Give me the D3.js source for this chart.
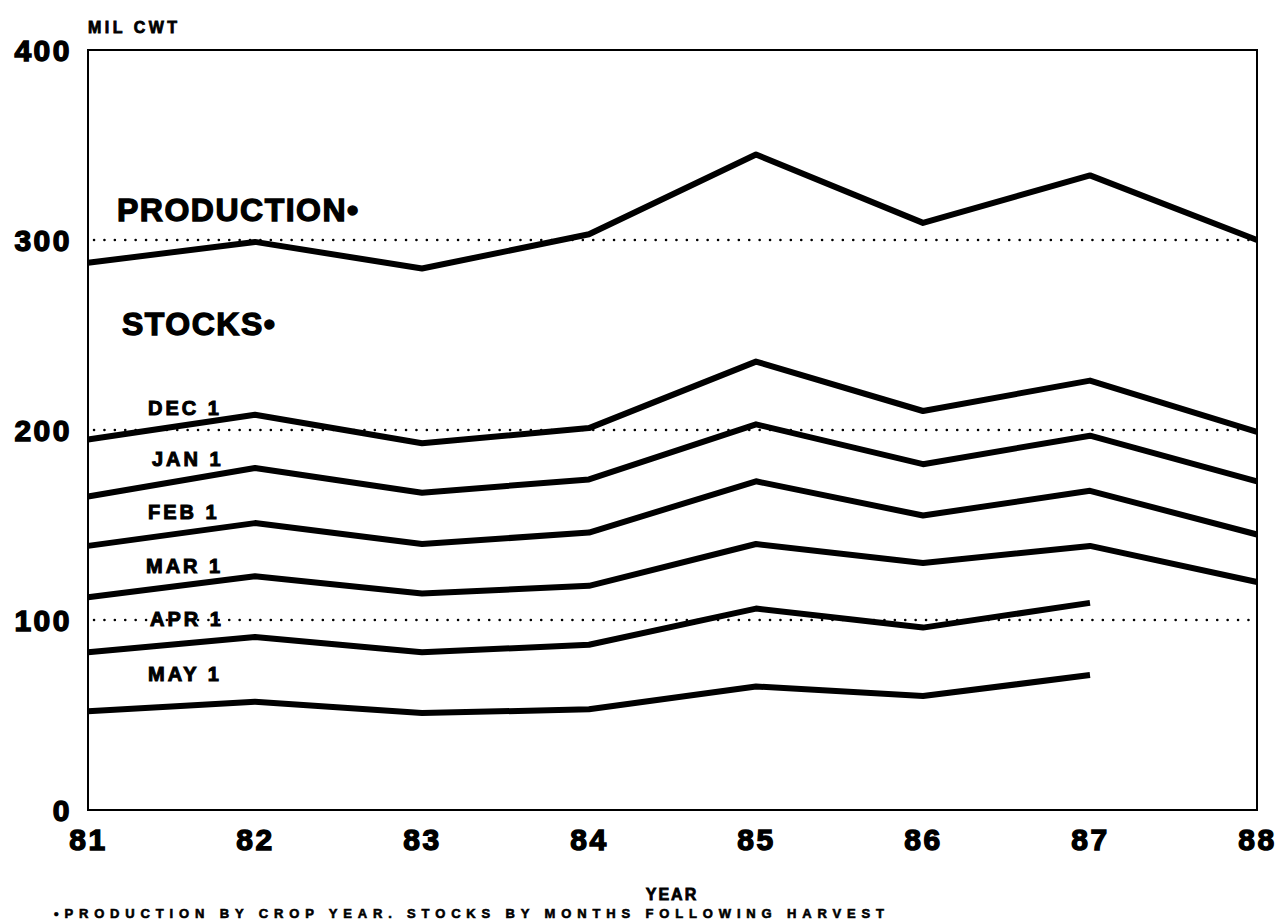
<!DOCTYPE html>
<html>
<head>
<meta charset="utf-8">
<script src="https://cdn.jsdelivr.net/npm/d3@7"></script>
<style>
  body { margin: 0; background: #fff; }
  text { font-family: "Liberation Sans", Arial, sans-serif; font-weight: bold; fill: #000; }
</style>
</head>
<body>
<div id="grafico"></div>
<script>
// datos (millones de cwt)
const anios = ["81", "82", "83", "84", "85", "86", "87", "88"];
const produccion = [288, 299, 285, 303, 345, 309, 334, 300];
const dic1 = [195, 208, 193, 201, 236, 210, 226, 199];
const ene1 = [165, 180, 167, 174, 203, 182, 197, 173];
const feb1 = [139, 151, 140, 146, 173, 155, 168, 145];
const mar1 = [112, 123, 114, 118, 140, 130, 139, 120];
const abr1 = [83, 91, 83, 87, 106, 96, 109];
const may1 = [52, 57, 51, 53, 65, 60, 71];
const ticksY = [0, 100, 200, 300, 400];
const rejilla = [100, 200, 300];

const series = [produccion, dic1, ene1, feb1, mar1, abr1, may1];

// etiquetas de las series: texto, anio de referencia, valor
const etiquetas = [
  { texto: "PRODUCTION•", x: "81", v: 310, size: 32, dx: 29 },
  { texto: "STOCKS•", x: "81", v: 250, size: 32, dx: 34 },
  { texto: "DEC 1", x: "81", v: 208, size: 20, dx: 60 },
  { texto: "JAN 1", x: "81", v: 181, size: 20, dx: 64 },
  { texto: "FEB 1", x: "81", v: 153, size: 20, dx: 60 },
  { texto: "MAR 1", x: "81", v: 125, size: 20, dx: 58 },
  { texto: "APR 1", x: "81", v: 97, size: 20, dx: 62 },
  { texto: "MAY 1", x: "81", v: 68, size: 20, dx: 60 }
];

const width = 1281, height = 921;
const margin = { top: 50, right: 24, bottom: 111, left: 88 };

const svg = d3.select("#grafico")
  .append("svg")
  .attr("width", width)
  .attr("height", height);

const xScale = d3.scalePoint()
  .domain(anios)
  .range([margin.left, width - margin.right]);

const yScale = d3.scaleLinear()
  .domain([0, 400])
  .range([height - margin.bottom, margin.top]);

// rejilla punteada
svg.selectAll("line.rejilla")
  .data(rejilla)
  .enter()
  .append("line")
  .attr("x1", margin.left + 6)
  .attr("x2", width - margin.right)
  .attr("y1", d => yScale(d))
  .attr("y2", d => yScale(d))
  .attr("stroke", "#000")
  .attr("stroke-width", 2.5)
  .attr("stroke-linecap", "round")
  .attr("stroke-dasharray", "0.1 10.3");

// marco
svg.append("rect")
  .attr("x", margin.left)
  .attr("y", margin.top)
  .attr("width", width - margin.left - margin.right)
  .attr("height", height - margin.top - margin.bottom)
  .attr("fill", "none")
  .attr("stroke", "#000")
  .attr("stroke-width", 2);

// eje y
const ejeY = svg.append("g")
  .attr("transform", `translate(${margin.left}, 0)`)
  .call(d3.axisLeft(yScale).tickValues(ticksY).tickSize(0).tickPadding(16));
ejeY.select(".domain").remove();
ejeY.selectAll("text")
  .attr("font-size", 30)
  .attr("stroke", "#000")
  .attr("stroke-width", 1.4)
  .attr("letter-spacing", 2.5)
  .attr("dy", "0.36em");

// eje x
const ejeX = svg.append("g")
  .attr("transform", `translate(0, ${height - margin.bottom})`)
  .call(d3.axisBottom(xScale).tickSize(0).tickPadding(19));
ejeX.select(".domain").remove();
ejeX.selectAll("text")
  .attr("font-size", 30)
  .attr("stroke", "#000")
  .attr("stroke-width", 1.4)
  .attr("letter-spacing", 2.5);

// lineas
const linea = d3.line()
  .x((d, i) => xScale(anios[i]))
  .y(d => yScale(d));

svg.selectAll("path.serie")
  .data(series)
  .enter()
  .append("path")
  .attr("class", "serie")
  .attr("d", d => linea(d))
  .attr("fill", "none")
  .attr("stroke", "#000")
  .attr("stroke-width", 6)
  .attr("stroke-linejoin", "round");

// etiquetas
svg.selectAll("text.etiqueta")
  .data(etiquetas)
  .enter()
  .append("text")
  .attr("class", "etiqueta")
  .attr("x", d => xScale(d.x) + d.dx)
  .attr("y", d => yScale(d.v))
  .attr("font-size", d => d.size)
  .attr("stroke", "#000")
  .attr("stroke-width", d => d.size > 24 ? 1.3 : 1)
  .attr("letter-spacing", d => d.size > 24 ? 1.5 : 3)
  .text(d => d.texto);

// titulos
svg.append("text")
  .attr("x", margin.left)
  .attr("y", 33)
  .attr("font-size", 16)
  .attr("letter-spacing", 3.5)
  .attr("stroke", "#000")
  .attr("stroke-width", 0.8)
  .text("MIL CWT");

svg.append("text")
  .attr("x", 672)
  .attr("y", 900)
  .attr("text-anchor", "middle")
  .attr("font-size", 16)
  .attr("letter-spacing", 2)
  .attr("stroke", "#000")
  .attr("stroke-width", 0.8)
  .text("YEAR");

svg.append("text")
  .attr("x", 54)
  .attr("y", 918)
  .attr("font-size", 13)
  .attr("textLength", 830)
  .attr("lengthAdjust", "spacing")
  .attr("stroke", "#000")
  .attr("stroke-width", 0.6)
  .text("•PRODUCTION BY CROP YEAR. STOCKS BY MONTHS FOLLOWING HARVEST");
</script>
</body>
</html>
